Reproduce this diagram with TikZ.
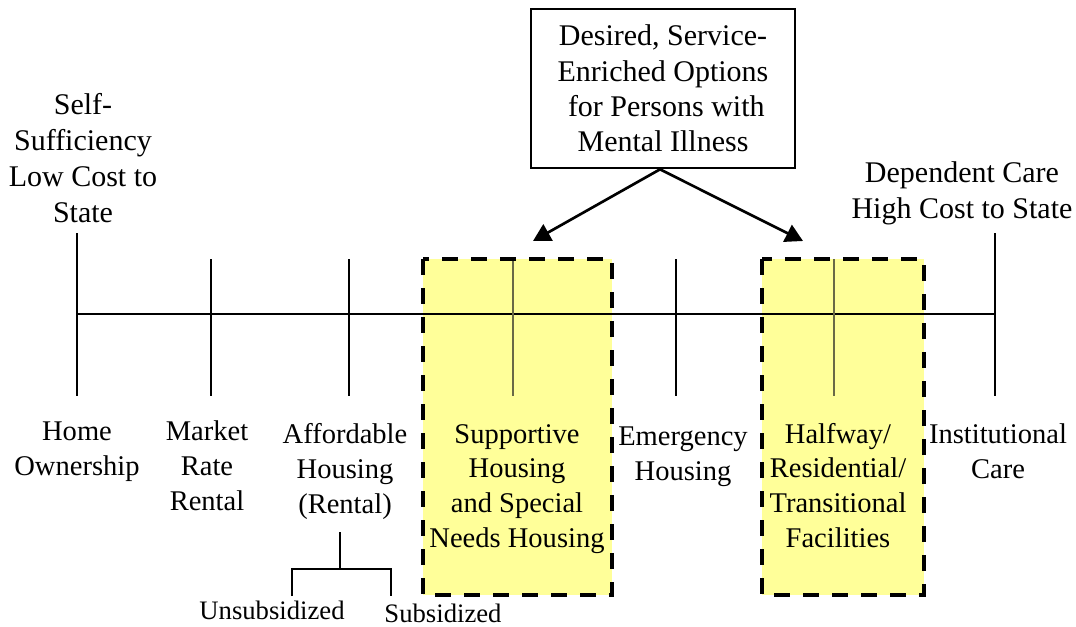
\documentclass[tikz,border=0pt]{standalone}
\usepackage{fontspec}
\setmainfont{Liberation Serif}
\usetikzlibrary{arrows.meta}
\definecolor{hilite}{RGB}{255,255,153}
\definecolor{shadedtick}{RGB}{105,105,70}

\begin{document}
\begin{tikzpicture}[x=0.75pt,y=-0.75pt,
  toplabel/.style={align=center,inner sep=0pt,anchor=base,font=\fontsize{22.5}{27}\selectfont},
  botlabel/.style={align=center,inner sep=0pt,anchor=base,font=\fontsize{21.4}{25.9}\selectfont},
  sublabel/.style={inner sep=0pt,anchor=base,font=\fontsize{20}{24}\selectfont},
  callout/.style={draw,line width=2pt,inner sep=0pt,align=center,
    minimum width=198pt,minimum height=119.25pt,font=\fontsize{22.5}{26.6}\selectfont},
  optfill/.style={fill=hilite,draw=none},
  optedge/.style={draw=black,line width=3pt,dash pattern=on 12pt off 9.75pt},
  axisline/.style={line width=1pt},
  bracket/.style={line width=1.1pt},
  pointer/.style={line width=2pt,-{Triangle[length=13pt,width=14pt]}}
]
\useasboundingbox (0,0) rectangle (1076,626);

% highlighted housing options
\path[optfill] (423,259) rectangle (612,595);
\path[optfill] (762,259) rectangle (924,595);

% the continuum axis with its ticks
\coordinate (axL) at (77,314);
\coordinate (axR) at (995,314);
\draw[axisline] (axL) -- (axR);
\draw[axisline] (77,233) coordinate (t0a) -- (77,396) coordinate (t0b);
\draw[axisline] (211,259) coordinate (t1a) -- (211,396) coordinate (t1b);
\draw[axisline] (349,259) coordinate (t2a) -- (349,396) coordinate (t2b);
\draw[axisline,draw=shadedtick] (513,259) coordinate (t3a) -- (513,396) coordinate (t3b);
\draw[axisline] (676,259) coordinate (t4a) -- (676,396) coordinate (t4b);
\draw[axisline,draw=shadedtick] (834,259) coordinate (t5a) -- (834,396) coordinate (t5b);
\draw[axisline] (995,233) coordinate (t6a) -- (995,396) coordinate (t6b);

% dashed outlines of the highlighted options
\draw[optedge] (423,259) rectangle (612,595);
\draw[optedge] (762,259) rectangle (924,595);

% end labels (anchored on the baseline of their last line)
\node[toplabel] (selfsuff) at (83,222) {Self-\\Sufficiency\\Low Cost to\\State};
\node[toplabel] (depcare) at (962,218) {Dependent Care\\High Cost to State};

% call-out box with arrows
\node[callout] (desired) at (663,88.5) {Desired, Service-\\Enriched Options\\\hspace*{5pt}for Persons with\\Mental Illness};
\coordinate (src) at ([xshift=-2.25pt]desired.south);
\coordinate (tipL) at (533,241);
\coordinate (tipR) at (803,241);
\draw[pointer] (src) -- (tipL);
\draw[pointer] (src) -- (tipR);

% housing types along the axis
\node[botlabel] (home) at (77,475) {Home\\Ownership};
\node[botlabel] (market) at (207,510) {Market\\Rate\\Rental};
\node[botlabel] (afford) at (345,513) {Affordable\\Housing\\(Rental)};
\node[botlabel] (support) at (517,547) {Supportive\\Housing\\and Special\\Needs Housing};
\node[botlabel] (emerg) at (683,480) {Emergency\\Housing};
\node[botlabel] (halfway) at (838,547) {Halfway/\\Residential/\\Transitional\\Facilities};
\node[botlabel] (instit) at (998,478) {Institutional\\Care};

% split of affordable housing
\coordinate (brTop) at (340,532);
\coordinate (brMid) at (340,569);
\coordinate (brL) at (292,569);
\coordinate (brR) at (391,569);
\coordinate (brLd) at (292,596);
\coordinate (brRd) at (391,596);
\draw[bracket] (brTop) -- (brMid);
\draw[bracket] (brLd) -- (brL) -- (brR) -- (brRd);
\node[sublabel] (unsub) at (272,619) {Unsubsidized};
\node[sublabel] (sub) at (443,622) {Subsidized};
\end{tikzpicture}
\end{document}
